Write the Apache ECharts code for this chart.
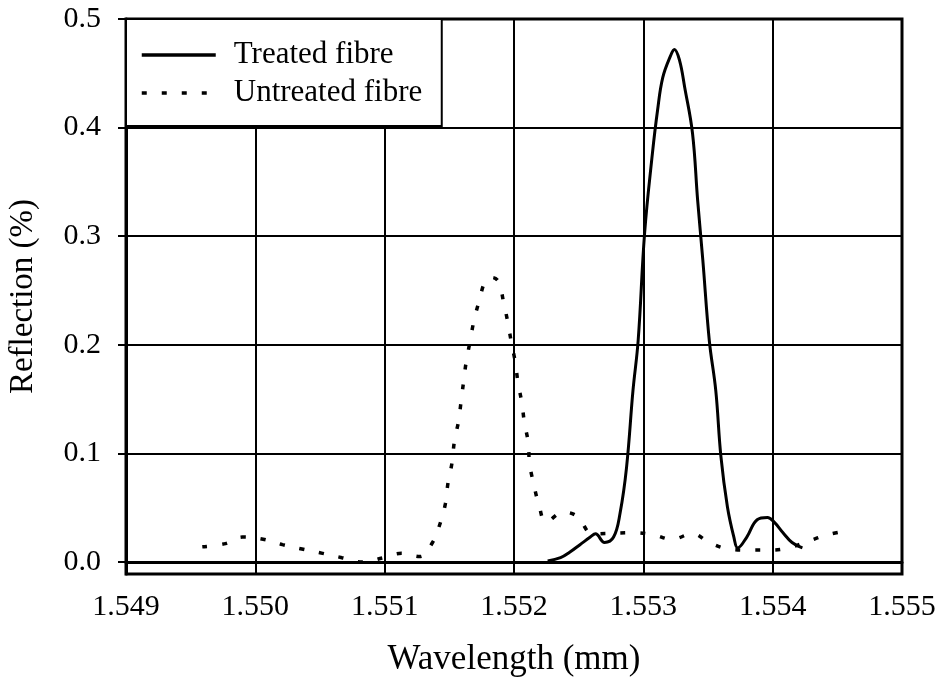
<!DOCTYPE html>
<html>
<head>
<meta charset="utf-8">
<script src="https://cdn.jsdelivr.net/npm/echarts@6/dist/echarts.min.js"></script>
<style>
  html, body { margin: 0; padding: 0; background: #fff; }
  #chart { width: 939px; height: 681px; }
</style>
</head>
<body>
<div id="chart"></div>
<script>
// 数据：从图上读出来的点
const treatedX = [1.55226, 1.55236, 1.55243, 1.55251, 1.55259, 1.55263, 1.5527, 1.55277, 1.55282, 1.55287,
  1.55292, 1.55296, 1.55301, 1.55307, 1.55311, 1.55315, 1.55321, 1.55324, 1.55328, 1.55332,
  1.55338, 1.55342, 1.55346, 1.55351, 1.55356, 1.5536, 1.55365, 1.5537, 1.55373, 1.5538,
  1.55388, 1.55396, 1.55401, 1.55408, 1.55415, 1.55423]
const treatedY = [0.001, 0.004, 0.009, 0.016, 0.023, 0.026, 0.018, 0.023, 0.045, 0.087,
  0.158, 0.204, 0.303, 0.376, 0.416, 0.446, 0.466, 0.472, 0.462, 0.437,
  0.395, 0.333, 0.278, 0.204, 0.158, 0.097, 0.051, 0.023, 0.013, 0.023,
  0.039, 0.041, 0.037, 0.027, 0.018, 0.013]

const untreatedX = [1.54959, 1.54977, 1.5499, 1.55006, 1.55021, 1.55036, 1.55052, 1.55067, 1.55083, 1.55099,
  1.55113, 1.55127, 1.55137, 1.55143, 1.55147, 1.55149, 1.55152, 1.55154, 1.55157, 1.55159,
  1.55161, 1.55163, 1.55166, 1.55169, 1.55173, 1.55178, 1.55183, 1.55188, 1.55192, 1.55195,
  1.55198, 1.55201, 1.55203, 1.55206, 1.55208, 1.55211, 1.55212, 1.55215, 1.55219, 1.55225,
  1.55238, 1.55249, 1.55261, 1.55292, 1.55308, 1.55322, 1.55338, 1.55351, 1.55366, 1.55381,
  1.55398, 1.55412, 1.55427, 1.55442, 1.55458]
const untreatedY = [0.014, 0.017, 0.023, 0.021, 0.016, 0.012, 0.008, 0.004, 0.0, 0.004,
  0.008, 0.005, 0.018, 0.036, 0.054, 0.073, 0.091, 0.112, 0.129, 0.147,
  0.166, 0.184, 0.203, 0.222, 0.240, 0.259, 0.262, 0.258, 0.239, 0.222,
  0.202, 0.184, 0.166, 0.147, 0.129, 0.110, 0.091, 0.073, 0.054, 0.037,
  0.046, 0.042, 0.026, 0.027, 0.025, 0.021, 0.026, 0.018, 0.012, 0.011,
  0.011, 0.013, 0.019, 0.025, 0.029]

// y 轴刻度
const yTicks = [0, 0.1, 0.2, 0.3, 0.4, 0.5]

const font = 'Liberation Serif'
const pairs = (xs, ys) => xs.map((x, i) => [x, ys[i]])

const myChart = echarts.init(document.getElementById('chart'))
const option = {
  animation: false,
  backgroundColor: '#fff',
  grid: {
    left: 126, right: 37, top: 19, bottom: 107,
    outerBoundsMode: 'none',
    containLabel: false,
    show: true, borderColor: '#000', borderWidth: 3
  },
  legend: {
    orient: 'vertical',
    left: 126, top: 19,
    padding: [18, 13, 15, 14],
    itemGap: 2,
    itemWidth: 74,
    itemHeight: 14,
    backgroundColor: '#fff',
    borderColor: '#000',
    borderWidth: 2,
    itemStyle: { opacity: 0 },
    lineStyle: { width: 3.5 },
    textStyle: {
      fontFamily: font, fontSize: 31, color: '#000',
      lineHeight: 36, width: 195, padding: [0, 0, 0, 13]
    }
  },
  xAxis: {
    type: 'value',
    min: 1.549, max: 1.555, interval: 0.001,
    name: 'Wavelength (mm)',
    nameLocation: 'middle',
    nameGap: 68,
    nameTextStyle: { fontFamily: font, fontSize: 35, color: '#000' },
    axisLine: { lineStyle: { color: '#000', width: 3 } },
    axisTick: { length: 7, lineStyle: { color: '#000', width: 2 } },
    axisLabel: {
      margin: 18, fontFamily: font, fontSize: 30, color: '#000',
      formatter: v => v.toFixed(3)
    },
    splitLine: { show: true, lineStyle: { color: '#000', width: 2 } }
  },
  yAxis: {
    type: 'value',
    min: -0.011, max: 0.5,
    name: 'Reflection (%)',
    nameLocation: 'middle',
    nameGap: 86,
    nameTextStyle: { fontFamily: font, fontSize: 33, color: '#000' },
    axisLine: { show: true, lineStyle: { color: '#000', width: 3 } },
    axisTick: { show: true, length: 8, customValues: yTicks, lineStyle: { color: '#000', width: 2 } },
    axisLabel: {
      margin: 25, fontFamily: font, fontSize: 30, color: '#000',
      customValues: yTicks,
      formatter: v => v.toFixed(1)
    },
    splitLine: { show: false }
  },
  series: [
    {
      name: 'Treated fibre',
      type: 'line',
      data: pairs(treatedX, treatedY),
      showSymbol: false,
      symbol: 'none',
      smooth: 0.4,
      itemStyle: { color: '#000' },
      lineStyle: { color: '#000', width: 3 },
      z: 3,
      // 横向网格线
      markLine: {
        silent: true,
        symbol: 'none',
        label: { show: false },
        lineStyle: { color: '#000', width: 2, type: 'solid' },
        data: yTicks.map(v => ({ yAxis: v }))
      }
    },
    {
      name: 'Untreated fibre',
      type: 'line',
      data: pairs(untreatedX, untreatedY),
      showSymbol: false,
      symbol: 'none',
      smooth: 0.4,
      itemStyle: { color: '#000' },
      lineStyle: { color: '#000', width: 3.5, type: [5, 15] },
      z: 3
    }
  ]
}
myChart.setOption(option)
</script>
</body>
</html>
